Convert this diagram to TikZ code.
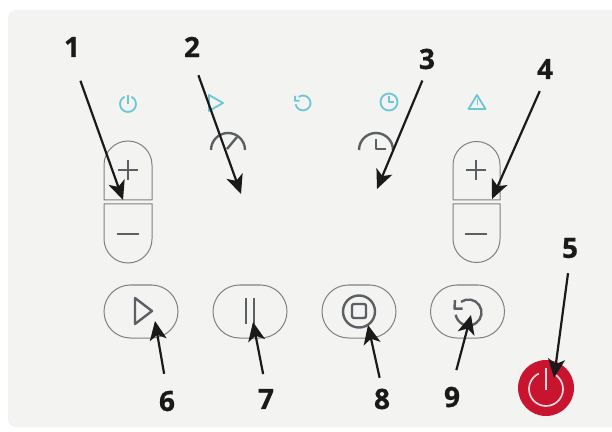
\documentclass[tikz,border=0pt]{standalone}
\usepackage{fontspec}
\setsansfont{Open Sans}[BoldFeatures={FakeBold=0.6}]
\usetikzlibrary{positioning}
\usetikzlibrary{arrows.meta}
\usetikzlibrary{shapes.misc}
\definecolor{panelgray}{HTML}{F3F3F2}
\definecolor{linegray}{HTML}{7E8183}
\definecolor{icongray}{HTML}{5C6064}
\definecolor{iconcyan}{HTML}{6CC6D6}
\definecolor{powerred}{HTML}{C8142F}
\definecolor{ringpink}{HTML}{F4DADA}
\definecolor{inkblack}{HTML}{1A1A1A}
\tikzset{
  numlabel/.style={font=\sffamily\bfseries\fontsize{28}{28}\selectfont, text=inkblack, inner sep=0pt},
  callout/.style={-{Stealth[length=19pt,width=17pt,inset=5pt]}, inkblack, line width=2.2pt},
  outline/.style={draw=linegray, line width=1pt},
  pillbutton/.style={outline, rounded rectangle, minimum width=74pt, minimum height=53pt, inner sep=0pt},
  darkicon/.style={icongray, line width=2.4pt, line join=round},
  tealicon/.style={iconcyan, line width=1.8pt, line join=round}
}
\newcommand*{\RestartIcon}[3]{
  \begin{scope}[shift={(#1)}, scale=#2]
    \draw[#3] (125:1) arc[start angle=125, end angle=-170, radius=1pt];
    \draw[#3] (-1.04,0.96) -- (-1.08,0.3) -- (-0.45,0.3);
  \end{scope}
}

\begin{document}
\begin{tikzpicture}[x=1pt, y=1pt]
\useasboundingbox (0,0) rectangle (612,431);
\fill[white] (0,0) rectangle (612,431);
\fill[panelgray, rounded corners=8pt] (8,4) rectangle (624,421);

% Status icons
\draw[tealicon] (128,327) ++(65:8pt) arc[start angle=65, end angle=-245, radius=8pt];
\draw[tealicon] (128,336) -- (128,327);
\draw[tealicon] (209,336) -- (223,328) -- (209,320) -- cycle;
\RestartIcon{303,328}{7.5}{tealicon}
\draw[tealicon] (389,329) circle[radius=8.5pt];
\draw[tealicon] (389,335) -- (389,329) -- (394,329);
\draw[tealicon] (477,336) -- (485.5,322) -- (468.5,322) -- cycle;
\draw[tealicon, line width=0.9pt] (477,332) -- (477,326);

% Gauge and timer
\draw[darkicon] (211,281) arc[start angle=180, end angle=0, radius=17pt];
\draw[darkicon] (227,282) -- (237,294);
\draw[darkicon] (359,281) arc[start angle=180, end angle=0, radius=17pt];
\draw[darkicon] (376,292) -- (376,282) -- (386,282);

% Left plus and minus
\draw[outline] (104,231) -- (104,266) arc[start angle=180, end angle=0, radius=24pt] -- (152,231) -- cycle;
\draw[outline] (104,227) -- (104,192) arc[start angle=180, end angle=360, radius=24pt] -- (152,227) -- cycle;
\draw[darkicon] (118,261) -- (138,261);
\draw[darkicon] (128,251) -- (128,271);
\draw[darkicon] (117,197) -- (139,197);

% Right plus and minus
\draw[outline] (453,231) -- (453,266) arc[start angle=180, end angle=0, radius=23.5pt] -- (500,231) -- cycle;
\draw[outline] (453,227) -- (453,192) arc[start angle=180, end angle=360, radius=23.5pt] -- (500,227) -- cycle;
\draw[darkicon] (466,261) -- (486,261);
\draw[darkicon] (476,251) -- (476,271);
\draw[darkicon] (465,197) -- (487,197);

% Buttons
\node[pillbutton] (playbtn) at (141,119.5) {};
\node[pillbutton] (pausebtn) at (250,119.5) {};
\node[pillbutton] (stopbtn) at (359,119.5) {};
\node[pillbutton] (restartbtn) at (467.5,119.5) {};
\node[circle, fill=powerred, minimum size=56pt, inner sep=0pt] (powerbtn) at (546,43) {};

% Button icons
\draw[darkicon] (135,133) -- (152,120) -- (135,107) -- cycle;
\draw[darkicon] (246,107) -- (246,133);
\draw[darkicon] (254,107) -- (254,133);
\draw[darkicon] (stopbtn.center) circle[radius=16pt];
\draw[darkicon, rounded corners=2pt] (352,113) rectangle (366,127);
\RestartIcon{468.5,118.5}{13}{darkicon}
\draw[ringpink, line width=1.7pt] (546,42) ++(65:17pt) arc[start angle=65, end angle=-245, radius=17pt];
\draw[ringpink, line width=1.7pt] (546,63) -- (546,41);

% Numbers
\node[numlabel] (lab1) at (72,384) {1};
\node[numlabel] (lab2) at (192,384) {2};
\node[numlabel] (lab3) at (427,372) {3};
\node[numlabel] (lab4) at (545,362) {4};
\node[numlabel] (lab5) at (570,183) {5};
\node[numlabel] (lab6) at (167,30) {6};
\node[numlabel] (lab7) at (266,32) {7};
\node[numlabel] (lab8) at (382,32) {8};
\node[numlabel] (lab9) at (452,34) {9};

% Arrow ends
\coordinate (tip1) at (123,231);
\coordinate (tip2) at (241,237);
\coordinate (tip3) at (377,242);
\coordinate (tip4) at (492,232);
\coordinate (tip5) at (554,53);
\coordinate (tip6) at (155,110);
\coordinate (tip7) at (253,109);
\coordinate (tip8) at (368,106);
\coordinate (tip9) at (471,116);

% Arrows
\draw[callout, shorten <=25pt] (lab1.south) -- (tip1);
\draw[callout, shorten <=19pt] (lab2.south) -- (tip2);
\draw[callout, shorten <=12pt] (lab3.south) -- (tip3);
\draw[callout, shorten <=13pt] (lab4.south) -- (tip4);
\draw[callout, shorten <=15pt] (lab5.south) -- (tip5);
\draw[callout, shorten <=17pt] (lab6.north) -- (tip6);
\draw[callout, shorten <=15pt] (lab7.north) -- (tip7);
\draw[callout, shorten <=11pt] (lab8.north) -- (tip8);
\draw[callout, shorten <=17pt] (lab9.north) -- (tip9);
\end{tikzpicture}
\end{document}
